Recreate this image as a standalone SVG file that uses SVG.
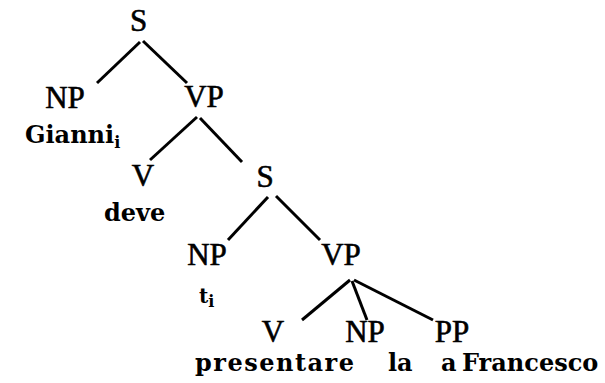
<svg xmlns="http://www.w3.org/2000/svg" width="605" height="383" viewBox="0 0 605 383">
<style>
.lab{font-family:"Liberation Serif","Times New Roman",serif;font-size:31px;fill:#000;stroke:#000;stroke-width:0.6;text-anchor:middle}
.w{font-family:"DejaVu Serif","Liberation Serif",serif;font-weight:bold;font-size:24px;fill:#000}
.sub{font-size:16px}
#edges line{stroke:#000;stroke-width:3;stroke-linecap:butt}
</style>
<rect width="605" height="383" fill="#fff"/>
<g id="edges">
<line x1="140" y1="42" x2="97" y2="83"/>
<line x1="143" y1="41" x2="187" y2="83"/>
<line x1="197" y1="117" x2="150" y2="160"/>
<line x1="200" y1="118" x2="242" y2="162"/>
<line x1="268" y1="197" x2="228" y2="240"/>
<line x1="276" y1="196" x2="320" y2="240"/>
<line x1="350" y1="280" x2="302" y2="320"/>
<line x1="352" y1="281" x2="367" y2="320"/>
<line x1="354" y1="280" x2="433" y2="320"/>
</g>
<g id="S1"><text class="lab" x="138.5" y="31">S</text></g>
<g id="NP1"><text class="lab" x="65" y="108">NP</text><text class="w" x="25" y="143">Gianni<tspan class="sub" dy="5">i</tspan></text></g>
<g id="VP1"><text class="lab" x="204" y="107">VP</text></g>
<g id="V1"><text class="lab" x="143" y="186">V</text><text class="w" x="104" y="221">deve</text></g>
<g id="S2"><text class="lab" x="265" y="187">S</text></g>
<g id="NP2"><text class="lab" x="207" y="265">NP</text><text class="w" x="199" y="303" style="font-size:20px">t<tspan class="sub" dy="4">i</tspan></text></g>
<g id="VP2"><text class="lab" x="341" y="265">VP</text></g>
<g id="V3"><text class="lab" x="273" y="342">V</text><text class="w" x="195" y="371" style="letter-spacing:1.5px">presentare</text></g>
<g id="NP3"><text class="lab" x="365" y="342">NP</text><text class="w" x="388" y="371">la</text></g>
<g id="PP"><text class="lab" x="452" y="342">PP</text><text class="w" x="441" y="371">a</text><text class="w" x="462" y="371">Francesco</text></g>
</svg>
